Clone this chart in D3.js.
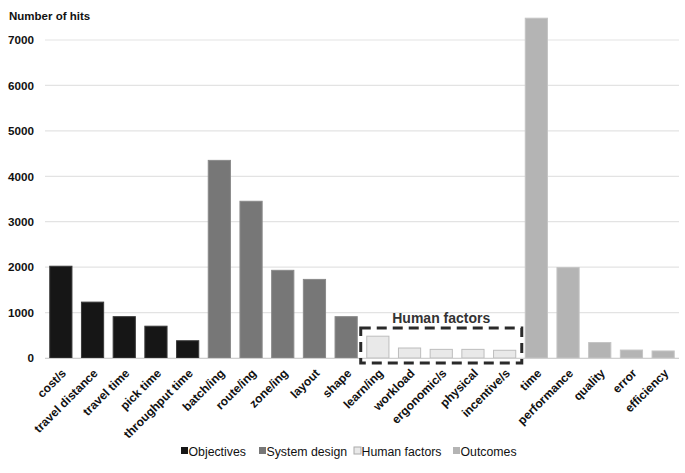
<!DOCTYPE html>
<html>
<head>
<meta charset="utf-8">
<script src="https://cdn.jsdelivr.net/npm/d3@7"></script>
<style>
  body { margin: 0; background: #fff; }
  svg { font-family: "Liberation Sans", Arial, sans-serif; }
</style>
</head>
<body>
<svg width="685" height="473"></svg>
<script>
// Data
const categories = ["cost/s", "travel distance", "travel time", "pick time", "throughput time",
    "batch/ing", "route/ing", "zone/ing", "layout", "shape",
    "learn/ing", "workload", "ergonomic/s", "physical", "incentive/s",
    "time", "performance", "quality", "error", "efficiency"];
const hits = [2020, 1230, 910, 700, 380,
    4350, 3450, 1930, 1730, 910,
    480, 220, 190, 190, 170,
    7480, 1990, 340, 175, 155];
const groups = ["Objectives", "Objectives", "Objectives", "Objectives", "Objectives",
    "System design", "System design", "System design", "System design", "System design",
    "Human factors", "Human factors", "Human factors", "Human factors", "Human factors",
    "Outcomes", "Outcomes", "Outcomes", "Outcomes", "Outcomes"];
const groupNames = ["Objectives", "System design", "Human factors", "Outcomes"];
const yTicks = [0, 1000, 2000, 3000, 4000, 5000, 6000, 7000];

const fill = d3.scaleOrdinal().domain(groupNames).range(["#161616", "#777777", "#e9e9e9", "#b4b4b4"]);
const edge = d3.scaleOrdinal().domain(groupNames).range(["#3a3a3a", "#8a8a8a", "#bdbdbd", "#c4c4c4"]);

const svg = d3.select("svg");
const plotLeft = 45, plotRight = 679, plotTop = 40, base = 358;

const x = d3.scaleBand().domain(categories).range([plotLeft, plotRight])
    .paddingInner(0.3).paddingOuter(0.15);
const y = d3.scaleLinear().domain([0, 7000]).range([base, plotTop]);

// gridlines
svg.append("g")
    .selectAll("line")
    .data(yTicks)
    .join("line")
    .attr("x1", plotLeft).attr("x2", plotRight)
    .attr("y1", d => y(d)).attr("y2", d => y(d))
    .attr("stroke", "#e3e3e3")
    .attr("stroke-width", 1.2);

// y axis labels
const yAxis = svg.append("g")
    .attr("transform", `translate(${plotLeft},0)`)
    .call(d3.axisLeft(y).tickValues(yTicks).tickSize(0).tickPadding(11).tickFormat(d3.format("d")));
yAxis.select(".domain").remove();
yAxis.selectAll("text")
    .attr("font-size", 11.7).attr("font-weight", "bold").attr("fill", "#111")
    .attr("font-family", "Liberation Sans, Arial, sans-serif");

svg.append("text")
    .attr("x", 9).attr("y", 20)
    .attr("font-size", 11.5).attr("font-weight", "bold").attr("fill", "#111")
    .text("Number of hits");

// bars
svg.append("g")
    .selectAll("rect")
    .data(categories)
    .join("rect")
    .attr("x", d => x(d))
    .attr("width", x.bandwidth())
    .attr("y", (d, i) => y(hits[i]))
    .attr("height", (d, i) => base - y(hits[i]))
    .attr("fill", (d, i) => fill(groups[i]))
    .attr("stroke", (d, i) => edge(groups[i]))
    .attr("stroke-width", 1);

// baseline
svg.append("line")
    .attr("x1", plotLeft).attr("x2", plotRight)
    .attr("y1", base + 0.5).attr("y2", base + 0.5)
    .attr("stroke", "#d0d0d0").attr("stroke-width", 1.2);

// category labels, rotated
svg.append("g")
    .selectAll("text")
    .data(categories)
    .join("text")
    .attr("transform", d => `translate(${x(d) + x.bandwidth() / 2 + 3},${base + 13}) rotate(-45)`)
    .attr("text-anchor", "end")
    .attr("dy", "0.35em")
    .attr("font-size", 12).attr("font-weight", "bold").attr("fill", "#111")
    .text(d => d);

// "Human factors" highlight box
const hf = categories.filter((d, i) => groups[i] === "Human factors");
const pad = x.step() * 0.19;
const bx0 = x(hf[0]) - pad, bx1 = x(hf[hf.length - 1]) + x.bandwidth() + pad;
svg.append("rect")
    .attr("x", bx0).attr("y", y(660))
    .attr("width", bx1 - bx0).attr("height", base + 5 - y(660))
    .attr("fill", "none")
    .attr("stroke", "#2a2a2a").attr("stroke-width", 3)
    .attr("stroke-dasharray", "10,6");
svg.append("text")
    .attr("x", (bx0 + bx1) / 2).attr("y", y(660) - 5)
    .attr("text-anchor", "middle")
    .attr("font-size", 14).attr("font-weight", "bold").attr("fill", "#333")
    .text("Human factors");

// legend
const legendX = [181, 259, 354, 453];
const legend = svg.append("g")
    .selectAll("g")
    .data(groupNames)
    .join("g")
    .attr("transform", (d, i) => `translate(${legendX[i]},447)`);
legend.append("rect")
    .attr("width", 7).attr("height", 7)
    .attr("fill", d => fill(d))
    .attr("stroke", d => d === "Human factors" ? "#aaa" : "none");
legend.append("text")
    .attr("x", 7.5).attr("y", 8.5)
    .attr("font-size", 12.3).attr("fill", "#111")
    .text(d => d);
</script>
</body>
</html>
